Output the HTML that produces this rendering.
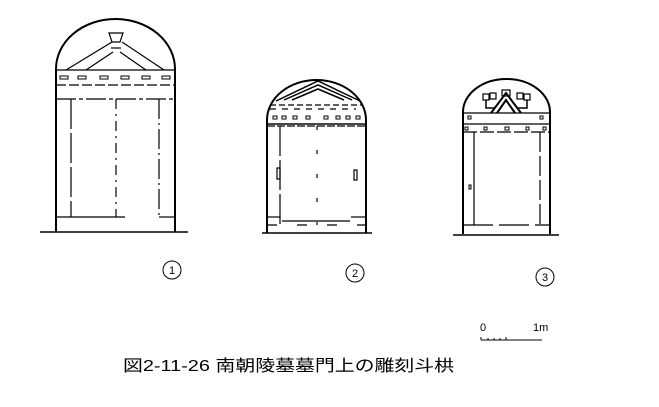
<!DOCTYPE html>
<html><head><meta charset="utf-8"><style>
html,body{margin:0;padding:0;background:#fff;width:659px;height:407px;overflow:hidden}
svg{display:block}
text{font-family:"Liberation Sans","Noto Sans CJK JP",sans-serif;fill:#000}
</style></head><body>
<svg width="659" height="407" viewBox="0 0 659 407" xmlns="http://www.w3.org/2000/svg">
<g fill="none" stroke="#000" stroke-width="1.2">
<!-- Gate 1 -->
<path d="M56,232 V69 A59.5,50 0 0 1 175,69 V232" stroke-width="2"/>
<line x1="40" y1="232" x2="188" y2="232" stroke-width="1.5"/>
<line x1="56" y1="70" x2="175" y2="70"/>
<line x1="56" y1="85" x2="175" y2="85" stroke-dasharray="10 3"/>
<line x1="56" y1="99" x2="175" y2="99" stroke-dasharray="20 3 4 3"/>
<line x1="71" y1="99" x2="71" y2="217" stroke-dasharray="30 4"/>
<line x1="116" y1="99" x2="116" y2="217" stroke-dasharray="10 5 2 5"/>
<line x1="159" y1="99" x2="159" y2="217" stroke-dasharray="20 4 2 4"/>
<line x1="56" y1="217" x2="125" y2="217"/>
<line x1="159" y1="217" x2="175" y2="217"/>
<path d="M66,70 L112,42 M86,70 L113,52 M120,52 L146,70 M122,42 L164,70"/>
<path d="M109,33 H123 L120,42 H112 Z"/>
<path d="M111,48 H121"/>
<g stroke-width="1">
<rect x="60" y="76" width="8" height="3"/><rect x="78" y="76" width="8" height="3"/><rect x="100" y="76" width="8" height="3"/><rect x="121" y="76" width="8" height="3"/><rect x="142" y="76" width="8" height="3"/><rect x="162" y="76" width="8" height="3"/>
</g>
<!-- Gate 2 -->
<path d="M267,233 V120 A49.5,40 0 0 1 366,120 V233" stroke-width="2"/>
<line x1="262" y1="233" x2="372" y2="233" stroke-width="1.5"/>
<line x1="267" y1="124" x2="366" y2="124"/>
<line x1="270" y1="105" x2="362" y2="105" stroke-dasharray="6 3"/>
<line x1="267" y1="126" x2="366" y2="126" stroke-dasharray="8 2"/>
<line x1="267" y1="124" x2="366" y2="124"/>
<line x1="270" y1="109" x2="356" y2="109" stroke-dasharray="6 6"/>
<line x1="280" y1="126" x2="280" y2="225" stroke-dasharray="30 4"/>
<line x1="317" y1="126" x2="317" y2="225" stroke-dasharray="4 20"/>
<line x1="282" y1="221" x2="350" y2="221"/>
<line x1="267" y1="217" x2="280" y2="217"/>
<line x1="351" y1="217" x2="366" y2="217"/>
<line x1="267" y1="225" x2="366" y2="225" stroke-dasharray="10 20"/>
<rect x="277" y="168" width="3" height="11"/>
<rect x="354" y="170" width="3" height="10"/>
<path d="M276,101 L318,81 L360,101 M284,100 L318,85 L352,100 M292,100 L318,89 L344,100" stroke-width="1.5"/>
<g stroke-width="1">
<rect x="273" y="116" width="4" height="3"/><rect x="282" y="116" width="4" height="3"/><rect x="293" y="116" width="4" height="3"/><rect x="306" y="116" width="4" height="3"/><rect x="324" y="116" width="4" height="3"/><rect x="336" y="116" width="4" height="3"/><rect x="346" y="116" width="4" height="3"/><rect x="356" y="116" width="4" height="3"/>
</g>
<!-- Gate 3 -->
<path d="M463,234 V112 A43.5,33 0 0 1 550,112 V234" stroke-width="2"/>
<line x1="453" y1="235" x2="559" y2="235" stroke-width="1.5"/>
<line x1="463" y1="113" x2="550" y2="113"/>
<line x1="463" y1="124" x2="550" y2="124"/>
<line x1="463" y1="132" x2="550" y2="132" stroke-dasharray="14 3"/>
<line x1="474" y1="132" x2="474" y2="225"/>
<line x1="540" y1="132" x2="540" y2="225" stroke-dasharray="20 4"/>
<line x1="463" y1="225" x2="550" y2="225" stroke-dasharray="30 6"/>
<path d="M491,113 L506,93 L521,113 M497,113 L506,100 L515,113" stroke-width="2"/>
<rect x="502" y="90" width="8" height="6"/>
<rect x="483" y="94" width="6" height="6"/><rect x="490" y="93" width="6" height="6"/>
<rect x="517" y="93" width="6" height="6"/><rect x="524" y="94" width="6" height="6"/>
<path d="M486,100 V108 H495 M527,100 V108 H518" stroke-width="1.5"/>
<g stroke-width="1">
<rect x="465" y="127" width="3" height="3"/><rect x="484" y="127" width="3" height="3"/><rect x="505" y="127" width="4" height="3"/><rect x="526" y="127" width="3" height="3"/><rect x="543" y="127" width="3" height="3"/>
<rect x="468" y="116" width="3" height="3"/><rect x="540" y="116" width="3" height="3"/>
<rect x="469" y="185" width="2" height="4"/>
</g>
<!-- circles -->
<circle cx="172" cy="270" r="9" stroke-width="1"/>
<circle cx="355" cy="273" r="9" stroke-width="1"/>
<circle cx="545" cy="277" r="9" stroke-width="1"/>
<!-- scale bar -->
<line x1="481" y1="340" x2="542" y2="340" stroke-width="1"/>
<line x1="481" y1="340" x2="481" y2="337" stroke-width="1"/>
<line x1="488" y1="340" x2="488" y2="338" stroke-width="1"/>
<line x1="494" y1="340" x2="494" y2="338" stroke-width="1"/>
<line x1="500" y1="340" x2="500" y2="338" stroke-width="1"/>
<line x1="506" y1="340" x2="506" y2="337" stroke-width="1"/>
</g>
<g font-size="11" text-anchor="middle">
<text x="172" y="274">1</text>
<text x="355" y="277">2</text>
<text x="545" y="281">3</text>
</g>
<text x="480" y="331" font-size="11">0</text>
<text x="533" y="331" font-size="11">1m</text>
<text x="123" y="371" font-size="16" textLength="331" lengthAdjust="spacingAndGlyphs">図2-11-26  南朝陵墓墓門上の雕刻斗栱</text>
</svg>
</body></html>
